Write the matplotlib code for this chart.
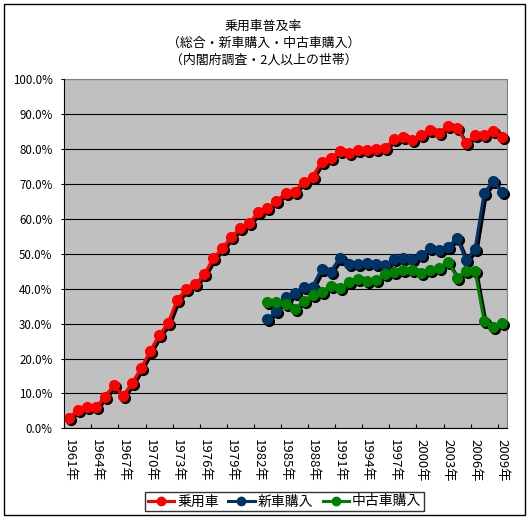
import matplotlib
matplotlib.use("Agg")
import matplotlib.pyplot as plt
from matplotlib.lines import Line2D
from matplotlib.patches import Rectangle
from matplotlib.ticker import PercentFormatter, FixedLocator
from matplotlib.transforms import offset_copy

plt.rcParams['font.family'] = ['Noto Sans CJK JP', 'DejaVu Sans']

# data (percent)
years = list(range(1961, 2010))
total = [2.9, 5.2, 6.0, 6.0, 9.1, 12.4, 9.3, 12.9, 17.2, 22.1,
         26.7, 30.1, 36.8, 39.8, 41.3, 44.1, 48.7, 51.6, 54.8, 57.3,
         58.7, 62.1, 63.1, 65.0, 67.5, 67.8, 70.7, 72.1, 76.4, 77.4,
         79.5, 79.0, 79.7, 79.7, 79.9, 80.2, 82.8, 83.4, 82.6, 84.0,
         85.5, 84.7, 86.6, 86.0, 81.7, 84.0, 84.0, 85.2, 83.4]
sub_years = list(range(1983, 2010))
new_car = [31.2, 33.7, 37.7, 38.7, 40.6, 40.6, 45.6, 44.9, 48.7, 47.1,
           47.1, 47.5, 47.1, 46.8, 48.4, 48.7, 48.4, 49.7, 51.6, 51.1,
           51.9, 54.6, 48.2, 51.4, 67.3, 70.9, 67.7]
used_car = [36.3, 36.3, 35.6, 34.1, 36.5, 38.2, 39.1, 40.9, 40.1, 42.0,
            42.7, 42.3, 42.5, 44.1, 44.9, 45.4, 45.4, 44.6, 45.4, 46.0,
            47.7, 43.2, 45.0, 45.0, 30.8, 29.1, 30.1]

series_names = ['乗用車', '新車購入', '中古車購入']
series_colors = ['#FF0000', '#003366', '#008000']
title_lines = ['乗用車普及率', '（総合・新車購入・中古車購入）', '（内閣府調査・2人以上の世帯）']
label_years = years[::3]

W, H = 530, 520
fig = plt.figure(figsize=(W / 100, H / 100), dpi=100)
fig.patch.set_facecolor('white')

# outer chart border
fig.patches.append(Rectangle((4 / W, 1 - 515 / H), 521 / W, 511 / H,
                             transform=fig.transFigure, fill=False,
                             ec='black', lw=1))

left, right, top, bottom = 64.3, 506.7, 79.3, 428.3
ax = fig.add_axes([left / W, 1 - bottom / H, (right - left) / W, (bottom - top) / H])
ax.set_facecolor('#C0C0C0')

shadow = offset_copy(ax.transData, fig=fig, x=2, y=-2, units='dots')
data = [(years, total), (sub_years, new_car), (sub_years, used_car)]
for (xs, ys), c in zip(data, series_colors):
    ax.plot(xs, ys, color='black', lw=2.2, marker='o', ms=7, mec='black',
            transform=shadow, zorder=3, clip_on=False)
    ax.plot(xs, ys, color=c, lw=2.2, marker='o', ms=7, mec=c,
            zorder=4, clip_on=False)

ax.set_xlim(1960.5, 2009.5)
ax.set_ylim(0, 100)
ax.set_yticks(range(0, 101, 10))
ax.yaxis.set_major_formatter(PercentFormatter(xmax=100, decimals=1))
ax.grid(axis='y', color='black', lw=0.8)
ax.set_axisbelow(True)

ax.xaxis.set_major_locator(FixedLocator([y - 0.5 for y in label_years]))
ax.xaxis.set_minor_locator(FixedLocator(label_years))
ax.set_xticklabels([], minor=False)
ax.set_xticklabels([f'{y}年' for y in label_years], minor=True,
                   rotation=-90, fontsize=9.5, va='top', ha='center')
ax.tick_params(axis='x', which='major', direction='in', length=3, width=0.8, color='black')
ax.tick_params(axis='x', which='minor', length=0, pad=8)
ax.tick_params(axis='y', direction='out', length=2, width=0.8, pad=6.5, labelsize=8.3)

for s in ['top', 'right']:
    ax.spines[s].set_color('#808080')
for s in ['left', 'bottom']:
    ax.spines[s].set_color('black')
    ax.spines[s].set_zorder(5)

fig.text(263 / W, 1 - 26 / H, title_lines[0], ha='center', va='center', fontsize=9.3)
fig.text(264 / W, 1 - 43 / H, title_lines[1], ha='center', va='center', fontsize=9.3)
fig.text(264 / W, 1 - 60 / H, title_lines[2], ha='center', va='center', fontsize=9.3)

handles = [Line2D([], [], color=c, lw=2.2, marker='o', ms=6, mec=c) for c in series_colors]
leg = fig.legend(handles, series_names, loc='center', ncol=3,
                 bbox_to_anchor=(284.5 / W, 1 - 501.5 / H), fontsize=10,
                 frameon=True, fancybox=False, edgecolor='black',
                 handlelength=1.9, handletextpad=0.2, columnspacing=0.7,
                 borderpad=0.2, borderaxespad=0)
leg.get_frame().set_linewidth(1)

fig.savefig('out.png', dpi=100)
